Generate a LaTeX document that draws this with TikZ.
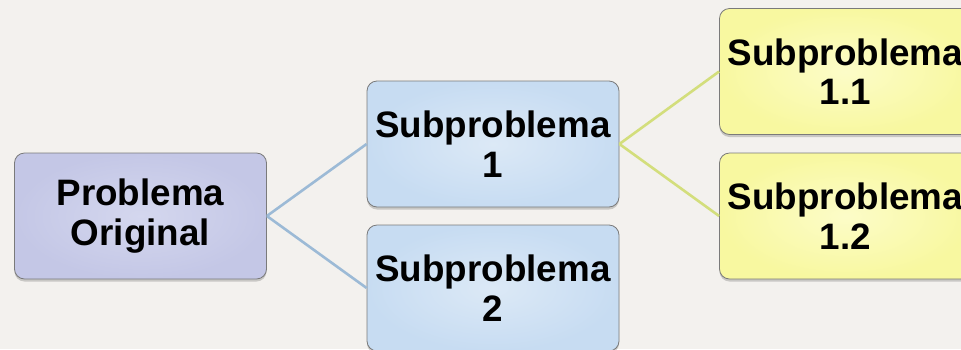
\documentclass[tikz,border=0pt]{standalone}
\usepackage{fontspec}
\setmainfont{Liberation Sans}
\usetikzlibrary{shadows}
\definecolor{bgc}{HTML}{F3F1EE}
\definecolor{lavout}{HTML}{C4C7E6}
\definecolor{lavin}{HTML}{D4D7EE}
\definecolor{bluout}{HTML}{C7DCF2}
\definecolor{bluin}{HTML}{DCE9F6}
\definecolor{yelout}{HTML}{F8F8A0}
\definecolor{yelin}{HTML}{FCFCC8}
\definecolor{lnblue}{HTML}{9CBAD6}
\definecolor{lnyel}{HTML}{D3DE7C}
\definecolor{edgec}{HTML}{7A7A7A}
\tikzset{
  x=1pt, y=-1pt,
  box/.style={draw=edgec, line width=0.8pt, rounded corners=10pt,
    minimum width=252pt, minimum height=126pt, align=center,
    font=\fontsize{36.8}{39.5}\selectfont\bfseries, inner sep=0pt,
    drop shadow={shadow xshift=0pt, shadow yshift=-2.5pt, opacity=0.3, fill=black!60}},
  origbox/.style={box, shading=radial, inner color=lavin, outer color=lavout},
  bluebox/.style={box, shading=radial, inner color=bluin, outer color=bluout},
  yelbox/.style={box, shading=radial, inner color=yelin, outer color=yelout},
  lnb/.style={draw=lnblue, line width=2.6pt},
  lny/.style={draw=lnyel, line width=2.6pt}
}
\begin{document}
\begin{tikzpicture}
\useasboundingbox (0,0) rectangle (961,349);
\clip (0,0) rectangle (961,349);
\fill[bgc] (0,0) rectangle (961,349);
\node[origbox] (orig) at (140.5,216) {Problema\\Original};
\node[bluebox] (s1) at (493,144) {Subproblema\\1};
\node[bluebox] (s2) at (493,288) {Subproblema\\2};
\node[yelbox] (s11) at (845.5,71.5) {Subproblema\\1.1};
\node[yelbox] (s12) at (845.5,216) {Subproblema\\1.2};
\draw[lnb] (orig.east) -- (s1.west);
\draw[lnb] (orig.east) -- (s2.west);
\draw[lny] (s1.east) -- (s11.west);
\draw[lny] (s1.east) -- (s12.west);
\end{tikzpicture}
\end{document}
